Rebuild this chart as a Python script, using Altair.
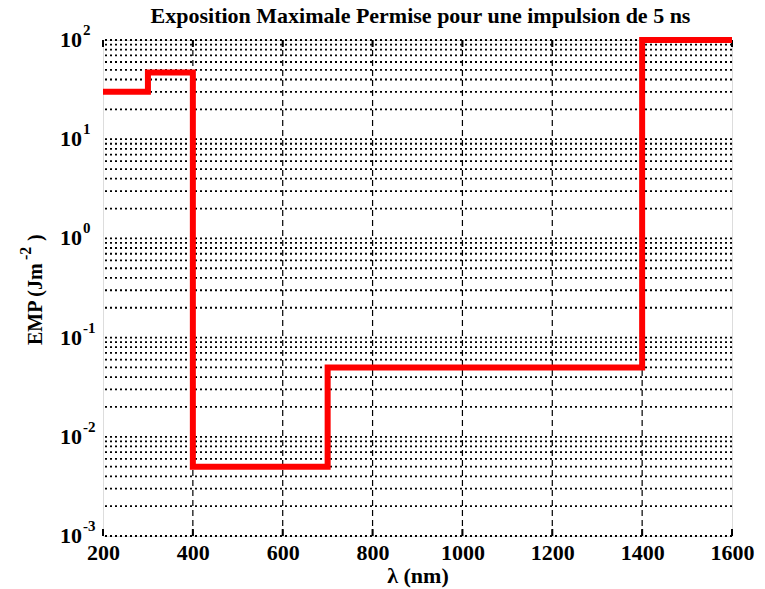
import altair as alt
import pandas as pd

# Step profile of the maximum permissible exposure (J/m^2) vs wavelength (nm)
wavelength = [200, 300, 400, 700, 1400, 1600]
emp = [30, 47, 0.005, 0.05, 100, 100]

x_ticks = [200, 400, 600, 800, 1000, 1200, 1400, 1600]
x_grid = [400, 600, 800, 1000, 1200, 1400]
exponents = [2, 1, 0, -1, -2, -3]

# log grid: every integer multiple of each decade
y_grid = [m * 10.0 ** k for k in range(-3, 2) for m in range(1, 10)] + [100.0]

TITLE = "Exposition Maximale Permise pour une impulsion de 5 ns"
Y_TITLE = ["EMP (Jm", "-2", ")"]
SERIF = "Liberation Serif"
W, H = 629, 496

xs = alt.Scale(domain=[200, 1600], nice=False, zero=False)
ys = alt.Scale(type="log", domain=[1e-3, 1e2], nice=False)

line_df = pd.DataFrame({"lam": wavelength, "emp": emp})
hgrid_df = pd.DataFrame({"v": y_grid})
vgrid_df = pd.DataFrame({"lam": x_grid})
tick_df = pd.DataFrame({"lam": x_ticks})
dec_df = pd.DataFrame({
    "v": [10.0 ** e for e in exponents],
    "base": ["10"] * len(exponents),
    "exp": [str(e) for e in exponents],
})
title_df = pd.DataFrame({"t": [TITLE]})

x_axis = alt.Axis(
    values=x_ticks, format="d", grid=False, ticks=False, domain=False,
    labelFont=SERIF, labelFontWeight="bold", labelFontSize=22,
    labelColor="black", labelPadding=6, labelFlush=False, labelOverlap=False,
    title="λ (nm)", titleFont=SERIF, titleFontWeight="bold",
    titleFontSize=22, titleColor="black", titlePadding=2,
)

hgrid = alt.Chart(hgrid_df).mark_rule(
    color="black", strokeWidth=1.8, strokeDash=[2, 3]
).encode(y=alt.Y("v:Q", scale=ys, axis=None))

vgrid = alt.Chart(vgrid_df).mark_rule(
    color="black", strokeWidth=1.2, strokeDash=[6, 4]
).encode(x=alt.X("lam:Q", scale=xs, axis=x_axis))

ticks_bottom = alt.Chart(tick_df).mark_rule(color="black", strokeWidth=2).encode(
    x=alt.X("lam:Q", scale=xs),
    y=alt.value(H - 7), y2=alt.value(H),
)
ticks_top = alt.Chart(tick_df).mark_rule(color="black", strokeWidth=2).encode(
    x=alt.X("lam:Q", scale=xs),
    y=alt.value(0), y2=alt.value(7),
)

line = alt.Chart(line_df).mark_line(
    color="#ff0000", strokeWidth=6, interpolate="step-after", clip=False
).encode(
    x=alt.X("lam:Q", scale=xs),
    y=alt.Y("emp:Q", scale=ys),
)

# decade labels: "10" with a raised exponent
base_lbl = alt.Chart(dec_df).mark_text(
    font=SERIF, fontWeight="bold", fontSize=22, align="right",
    baseline="middle", color="black",
).encode(y=alt.Y("v:Q", scale=ys), x=alt.value(-21), text="base:N")

exp_lbl = alt.Chart(dec_df).mark_text(
    font=SERIF, fontWeight="bold", fontSize=15, align="left",
    baseline="middle", color="black", dy=-10,
).encode(y=alt.Y("v:Q", scale=ys), x=alt.value(-20), text="exp:N")

title = alt.Chart(title_df).mark_text(
    font=SERIF, fontWeight="bold", fontSize=22, align="center",
    baseline="middle", color="black",
).encode(x=alt.value(W / 2 + 3), y=alt.value(-24), text="t:N")

# rotated y-axis title with a superscript exponent
def rotated(txt, x, y, size):
    return alt.Chart(pd.DataFrame({"t": [txt]})).mark_text(
        font=SERIF, fontWeight="bold", fontSize=size, angle=270,
        align="left", baseline="middle", color="black",
    ).encode(x=alt.value(x), y=alt.value(y), text="t:N")

ytitle_main = rotated(Y_TITLE[0], -67, 305, 20)
ytitle_exp = rotated(Y_TITLE[1], -77, 220, 16)
ytitle_close = rotated(Y_TITLE[2], -67, 201, 20)

chart = alt.layer(
    hgrid, vgrid, ticks_bottom, ticks_top, line, base_lbl, exp_lbl, title,
    ytitle_main, ytitle_exp, ytitle_close,
).properties(
    width=W, height=H,
    autosize=alt.AutoSizeParams(type="none"),
    padding={"left": 103, "top": 40, "right": 33, "bottom": 53},
).configure_view(
    stroke="black", strokeWidth=2.5, fill="white"
).configure(background="white")

chart.save("out.html", embed_options={"renderer": "svg", "actions": False})
